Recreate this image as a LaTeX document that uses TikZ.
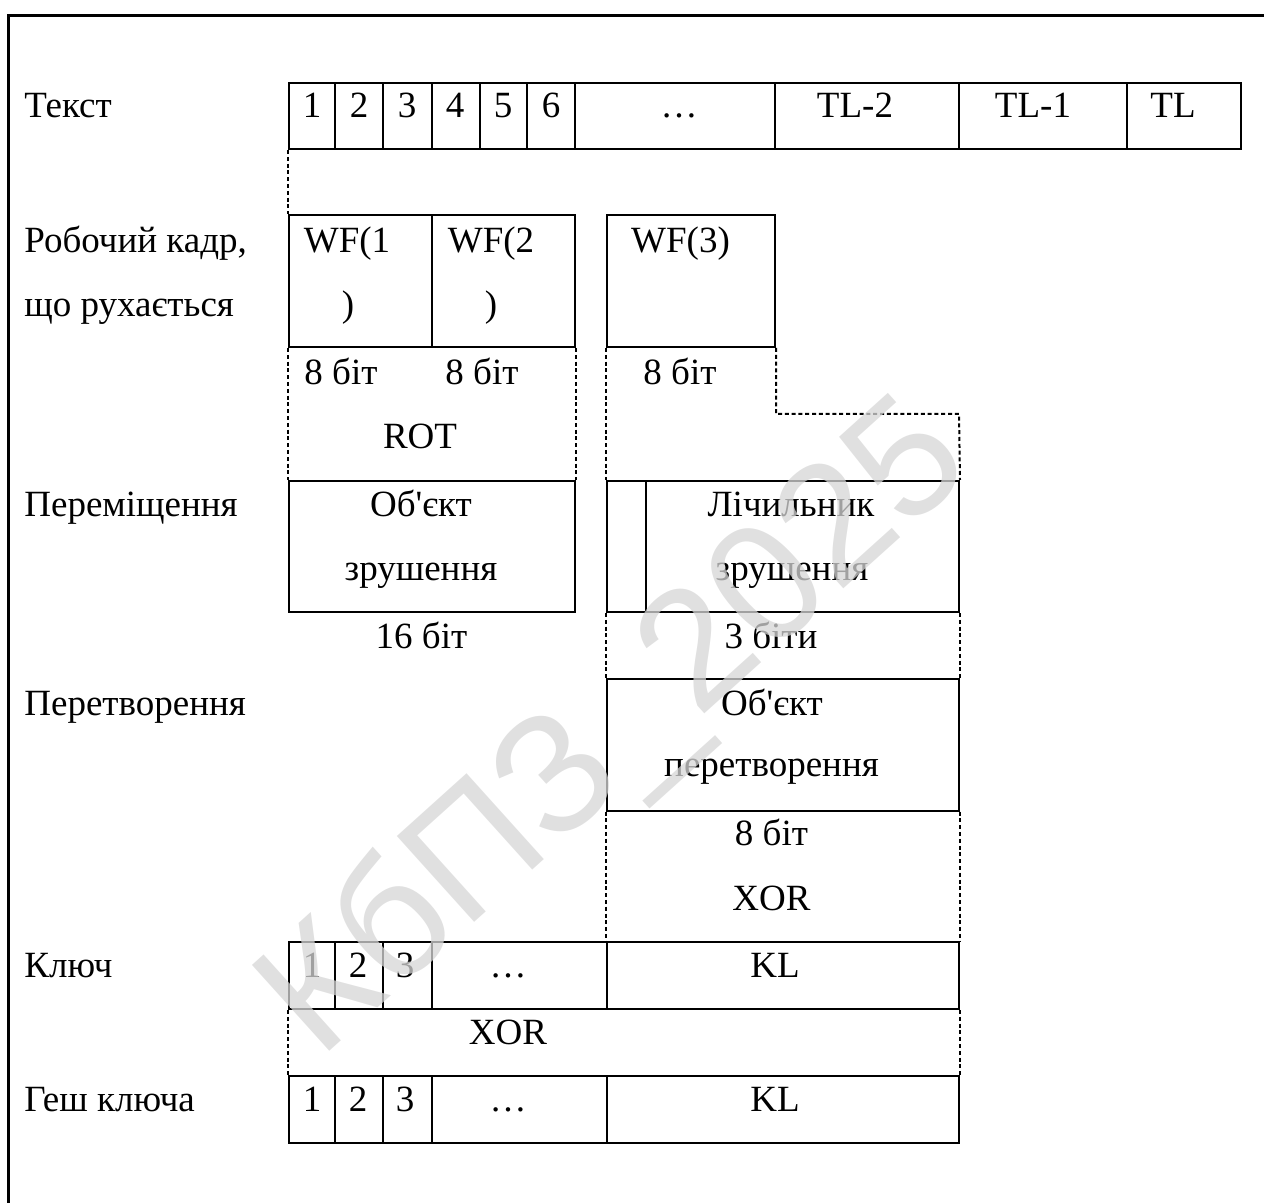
\documentclass[tikz,border=0pt]{standalone}
\usepackage{fontspec}
\setmainfont{Liberation Serif}
\setsansfont{Liberation Sans}
\usetikzlibrary{fit}

\definecolor{wmgray}{RGB}{214,214,214}

\tikzset{
	cell/.style={draw, line width=1pt, inner sep=0pt},
	txt/.style={anchor=base, inner sep=0pt},
	rowlbl/.style={anchor=base west, inner sep=0pt},
	gap/.style={line width=1pt, dash pattern=on 2pt off 1.4pt},
	wmark/.style={text=wmgray, text opacity=0.75, font=\sffamily\fontsize{84}{84}\selectfont, inner sep=0pt},
}

\begin{document}
\begin{tikzpicture}[x=0.5pt, y=-0.5pt, every node/.style={font=\fontsize{18.5}{22}\selectfont}]
	\useasboundingbox (0,0) rectangle (1264,1203);
	% outer frame, runs off the page
	\draw[line width=1.5pt] (8,1220) -- (8,15.5) -- (1280,15.5);

	% row labels
	\node[rowlbl] (lText) at (24,118) {Текст};
	\node[rowlbl] (lFrameA) at (24,252.7) {Робочий кадр,};
	\node[rowlbl] (lFrameB) at (24,316.7) {що рухається};
	\node[rowlbl] (lShift) at (24,516.7) {Переміщення};
	\node[rowlbl] (lTrans) at (24,715) {Перетворення};
	\node[rowlbl] (lKey) at (24,977) {Ключ};
	\node[rowlbl] (lHash) at (24,1111) {Геш ключа};

	% text row
	\foreach \n/\a/\b in {t1/288.5/335, t2/335/383, t3/383/431.5, t4/431.5/479.5, t5/479.5/527, t6/527/575,
		tdots/575/775, tl2/775/959, tl1/959/1127, tl/1127/1240.5}
		\node[cell, fit={(\a,83) (\b,149)}] (\n) {};
	\foreach \i/\x in {1/312, 2/359, 3/407, 4/455, 5/503, 6/551}
		\node[txt] (tn\i) at (\x,118) {\i};
	\node[txt] (tnDots) at (679,118) {\ldots};
	\node[txt] (tnL2) at (855,118) {TL-2};
	\node[txt] (tnL1) at (1033,118) {TL-1};
	\node[txt] (tnL) at (1173,118) {TL};

	% moving working frame
	\node[cell, fit={(288.5,215.5) (431.5,347)}] (wf1) {};
	\node[cell, fit={(431.5,215.5) (575,347)}] (wf2) {};
	\node[cell, fit={(606.5,215.5) (775,347)}] (wf3) {};
	\node[txt] (wfA1) at (347,252.7) {WF(1};
	\node[txt] (wfA2) at (348,316.7) {)};
	\node[txt] (wfB1) at (491,252.7) {WF(2};
	\node[txt] (wfB2) at (491,316.7) {)};
	\node[txt] (wfC) at (680.5,252.7) {WF(3)};
	\node[txt] (bitA) at (341,385) {8 біт};
	\node[txt] (bitB) at (482,385) {8 біт};
	\node[txt] (bitC) at (680,385) {8 біт};
	\node[txt] (rot) at (420,449) {ROT};

	% shift
	\node[cell, fit={(288.5,481) (575,612)}] (shobj) {};
	\node[cell, fit={(606.5,481) (646,612)}] (shcnt) {};
	\node[cell, fit={(646,481) (959,612)}] (shctr) {};
	\node[txt] (shA1) at (421,516.7) {Об\textquotesingle єкт};
	\node[txt] (shA2) at (421,580.7) {зрушення};
	\node[txt] (shB1) at (791,516.7) {Лічильник};
	\node[txt] (shB2) at (792,580.7) {зрушення};
	\node[txt] (bitD) at (421.5,648) {16 біт};
	\node[txt] (bitE) at (771,648) {3 біти};

	% transform
	\node[cell, fit={(606.5,679) (959,810.5)}] (trobj) {};
	\node[txt] (trA1) at (772,715) {Об\textquotesingle єкт};
	\node[txt] (trA2) at (771.5,776.7) {перетворення};
	\node[txt] (bitF) at (771.5,845.7) {8 біт};
	\node[txt] (xorA) at (771.5,910) {XOR};

	% key and key hash
	\foreach \r/\ya/\yb in {k/942/1009, h/1076/1143} {
		\foreach \n/\a/\b in {1/288.5/335, 2/335/383, 3/383/431.5, dots/431.5/606.5, l/606.5/959}
			\node[cell, fit={(\a,\ya) (\b,\yb)}] (\r\n) {};
	}
	\foreach \r/\y in {k/977, h/1111} {
		\foreach \i/\x in {1/312, 2/358, 3/405}
			\node[txt] (\r n\i) at (\x,\y) {\i};
		\node[txt] (\r nDots) at (508,\y) {\ldots};
		\node[txt] (\r nL) at (775,\y) {KL};
	}
	\node[txt] (xorB) at (508,1044) {XOR};

	% dashed links between the rows
	\coordinate (bend) at (959,414);
	\draw[gap] (t1.south west) -- (wf1.north west);
	\draw[gap] (wf1.south west) -- (shobj.north west);
	\draw[gap] (wf2.south east) -- (shobj.north east);
	\draw[gap] (wf3.south west) -- (shcnt.north west);
	\draw[gap] (wf3.south east) -- (wf3.south east |- bend) -- (bend) -- (shctr.north east);
	\draw[gap] (shcnt.south west) -- (trobj.north west);
	\draw[gap] (shctr.south east) -- (trobj.north east);
	\draw[gap] (trobj.south west) -- (kl.north west);
	\draw[gap] (trobj.south east) -- (kl.north east);
	\draw[gap] (k1.south west) -- (h1.north west);
	\draw[gap] (kl.south east) -- (hl.north east);

	% watermark
	\node[wmark, rotate=42] (wm) at (618,732) {КбПЗ\_2025};
\end{tikzpicture}
\end{document}
